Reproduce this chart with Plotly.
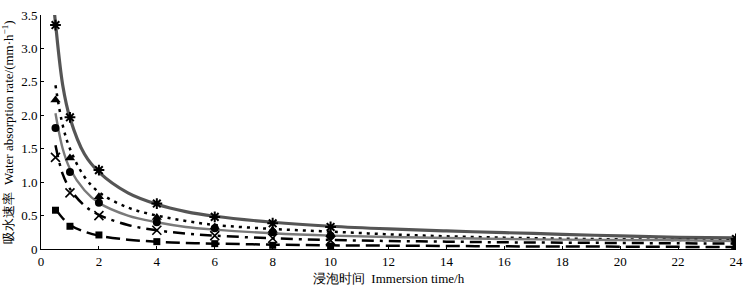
import plotly.graph_objects as go

# measured points
time_h = [0.5, 1, 2, 4, 6, 8, 10, 24]
s_asterisk = [3.35, 1.97, 1.18, 0.68, 0.48, 0.385, 0.33, 0.15]
s_triangle = [2.23, 1.36, 0.78, 0.47, 0.33, 0.28, 0.22, 0.13]
s_circle = [1.81, 1.15, 0.69, 0.40, 0.31, 0.25, 0.20, 0.11]
s_cross = [1.37, 0.84, 0.50, 0.28, 0.20, 0.16, 0.13, 0.07]
s_square = [0.58, 0.34, 0.21, 0.11, 0.08, 0.055, 0.045, 0.03]

# fitted curves
curve_t = [0.45, 0.5, 0.75, 1, 1.5, 2, 3, 4, 5, 6, 8, 10, 12, 14, 16, 18, 20, 22, 24]
c_asterisk = [3.6, 3.38, 2.45, 1.96, 1.42, 1.15, 0.84, 0.67, 0.56, 0.49, 0.40, 0.34, 0.30, 0.27, 0.245, 0.22, 0.195, 0.175, 0.165]
c_triangle = [None, 2.45, 1.85, 1.5, 1.08, 0.85, 0.62, 0.50, 0.42, 0.36, 0.30, 0.26, 0.22, 0.19, 0.17, 0.155, 0.145, 0.135, 0.13]
c_circle = [None, 2.03, 1.5, 1.2, 0.88, 0.69, 0.50, 0.40, 0.33, 0.29, 0.235, 0.20, 0.18, 0.165, 0.15, 0.14, 0.135, 0.13, 0.12]
c_cross = [None, 1.55, 1.12, 0.90, 0.65, 0.51, 0.36, 0.28, 0.23, 0.20, 0.16, 0.135, 0.12, 0.11, 0.10, 0.095, 0.09, 0.085, 0.08]
c_square = [None, 0.60, 0.46, 0.36, 0.26, 0.20, 0.14, 0.11, 0.09, 0.08, 0.065, 0.055, 0.05, 0.045, 0.04, 0.037, 0.035, 0.032, 0.03]

x_ticks = list(range(0, 25, 2))
y_ticks = [0, 0.5, 1.0, 1.5, 2.0, 2.5, 3.0, 3.5]
y_tick_text = ["0", "0.5", "1.0", "1.5", "2.0", "2.5", "3.0", "3.5"]

fig = go.Figure()

curve_styles = [
    (c_asterisk, dict(color="#555555", width=3.2, dash="solid")),
    (c_triangle, dict(color="black", width=2.5, dash="3px,5px")),
    (c_circle, dict(color="#7a7a7a", width=2.4, dash="solid")),
    (c_cross, dict(color="black", width=2.5, dash="12px,6px,3px,6px")),
    (c_square, dict(color="black", width=2.5, dash="14px,6px")),
]
for vals, ln in curve_styles:
    fig.add_trace(go.Scatter(x=curve_t, y=vals, mode="lines", line=dict(shape="spline", smoothing=1.0, **ln),
                             showlegend=False, hoverinfo="skip", connectgaps=False))

marker_styles = [
    (s_asterisk, dict(symbol="asterisk", size=9, color="black", line=dict(width=2, color="black"))),
    (s_triangle, dict(symbol="triangle-up", size=9, color="black")),
    (s_circle, dict(symbol="circle", size=8, color="black")),
    (s_cross, dict(symbol="x-thin", size=9, color="black", line=dict(width=1.6, color="black"))),
    (s_square, dict(symbol="square", size=7, color="black")),
]
for vals, mk in marker_styles:
    fig.add_trace(go.Scatter(x=time_h, y=vals, mode="markers", marker=mk, showlegend=False))

font_family = "Times New Roman, Liberation Serif, DejaVu Serif, serif"
fig.update_layout(
    width=751, height=292,
    margin=dict(l=41, r=9, t=8, b=42),
    paper_bgcolor="white", plot_bgcolor="white",
    font=dict(family=font_family, size=13, color="black"),
    xaxis=dict(range=[0, 24], tickvals=x_ticks, showline=True, linecolor="black", linewidth=1,
               ticks="inside", ticklen=3, tickcolor="black", showgrid=False, zeroline=False,
               title=dict(text="浸泡时间  Immersion time/h", font=dict(size=13), standoff=6)),
    yaxis=dict(range=[0, 3.5], tickvals=y_ticks, ticktext=y_tick_text, showline=True, linecolor="black",
               linewidth=1, ticks="inside", ticklen=3, tickcolor="black", showgrid=False, zeroline=False,
               title=dict(text="吸水速率  Water absorption rate/(mm·h<sup>−1</sup>)", font=dict(size=13), standoff=4)),
)

fig.write_html("out.html", config={"displayModeBar": False},
               post_script="document.body.style.margin='0';document.body.style.padding='0';")
